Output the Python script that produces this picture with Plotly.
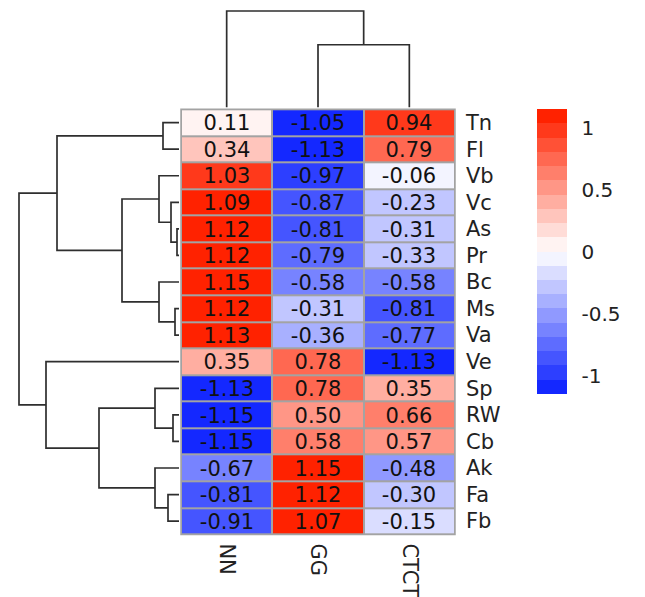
import plotly.graph_objects as go

# ---------------- data ----------------
row_labels = ["Tn", "Fl", "Vb", "Vc", "As", "Pr", "Bc", "Ms", "Va",
              "Ve", "Sp", "RW", "Cb", "Ak", "Fa", "Fb"]
col_labels = ["NN", "GG", "CTCT"]

nn_values = [0.11, 0.34, 1.03, 1.09, 1.12, 1.12, 1.15, 1.12, 1.13,
             0.35, -1.13, -1.15, -1.15, -0.67, -0.81, -0.91]
gg_values = [-1.05, -1.13, -0.97, -0.87, -0.81, -0.79, -0.58, -0.31, -0.36,
             0.78, 0.78, 0.50, 0.58, 1.15, 1.12, 1.07]
ctct_values = [0.94, 0.79, -0.06, -0.23, -0.31, -0.33, -0.58, -0.81, -0.77,
               -1.13, 0.35, 0.66, 0.57, -0.48, -0.30, -0.15]

# hclust-style merges (negative = leaf index in display order, positive = earlier merge)
row_merge_a = [-5, -8, -12, -4, -15, -1, -3, -7, -11, -14, 7, 9, 6, -10, 13]
row_merge_b = [-6, -9, -13, 1, -16, -2, 4, 2, 3, 5, 8, 10, 11, 12, 14]
row_merge_h = [2, 4, 6, 8, 11, 16, 20, 20, 24, 24, 57, 80, 122, 133, 160]

col_merge_a = [-2, -1]
col_merge_b = [-3, 1]
col_merge_h = [63, 97]

colorbar_ticks = [1, 0.5, 0, -0.5, -1]
colorbar_tick_text = ["1", "0.5", "0", "-0.5", "-1"]

# ---------------- styling ----------------
PAGE_OFFSET = 8                      # default body margin of the html page
W, H = 645 - PAGE_OFFSET, 597 - PAGE_OFFSET
FONT = "DejaVu Sans"
LOW, MID, HIGH = (20, 40, 255), (255, 255, 255), (255, 34, 0)
N_COLORS = 20
ZMIN, ZMAX = -1.15, 1.15
GRID = "#A3A3A3"
LINE = "#2e2e2e"


def px_x(p):
    return (p - PAGE_OFFSET) / W


def px_y(p):
    return 1 - (p - PAGE_OFFSET) / H


def ramp(n):
    cols = []
    for i in range(n):
        t = i / (n - 1)
        if t <= 0.5:
            a, b, f = LOW, MID, t / 0.5
        else:
            a, b, f = MID, HIGH, (t - 0.5) / 0.5
        c = tuple(round(a[k] + (b[k] - a[k]) * f) for k in range(3))
        cols.append("rgb(%d,%d,%d)" % c)
    return cols


palette = ramp(N_COLORS)
colorscale = []
for i, c in enumerate(palette):
    colorscale.append([i / N_COLORS, c])
    colorscale.append([(i + 1) / N_COLORS, c])


def dendro(ma, mb, mh):
    pos, hgt = [], []
    hs, ps = [], []

    def node(k):
        if k < 0:
            return (-k - 1, 0.0)
        return (pos[k - 1], hgt[k - 1])

    for a, b, h in zip(ma, mb, mh):
        pa, ha = node(a)
        pb, hb = node(b)
        hs += [ha, h, h, hb, None]
        ps += [pa, pa, pb, pb, None]
        pos.append((pa + pb) / 2)
        hgt.append(h)
    return hs, ps


z = [[nn_values[i], gg_values[i], ctct_values[i]] for i in range(len(row_labels))]
text = [["%.2f" % v for v in row] for row in z]
nrow, ncol = len(row_labels), len(col_labels)

fig = go.Figure()

fig.add_trace(go.Heatmap(
    z=z, x=list(range(ncol)), y=list(range(nrow)),
    text=text, texttemplate="%{text}",
    textfont=dict(family=FONT, size=21, color="#111111"),
    colorscale=colorscale, zmin=ZMIN, zmax=ZMAX,
    xgap=2, ygap=2, hoverinfo="skip",
    colorbar=dict(
        x=px_x(537), xanchor="left", xpad=0, ypad=0,
        y=px_y(253.5), yanchor="middle",
        len=287 / H, lenmode="fraction", thickness=30,
        outlinewidth=0,
        tickvals=colorbar_ticks, ticktext=colorbar_tick_text,
        ticks="outside", ticklen=11, tickcolor="rgba(0,0,0,0)",
        tickfont=dict(family=FONT, size=20, color="#222222"),
    ),
))

rh, rp = dendro(row_merge_a, row_merge_b, row_merge_h)
fig.add_trace(go.Scatter(x=rh, y=rp, xaxis="x2", yaxis="y", mode="lines",
                         line=dict(color=LINE, width=1.7), hoverinfo="skip",
                         showlegend=False))

ch, cp = dendro(col_merge_a, col_merge_b, col_merge_h)
fig.add_trace(go.Scatter(x=cp, y=ch, xaxis="x", yaxis="y3", mode="lines",
                         line=dict(color=LINE, width=1.7), hoverinfo="skip",
                         showlegend=False))

# grey background behind heatmap cells (cell borders)
fig.add_shape(type="rect", xref="x domain", yref="y domain",
              x0=0, x1=1, y0=0, y1=1, fillcolor=GRID,
              line=dict(color=GRID, width=1.5), layer="below")

fig.update_layout(
    width=W, height=H, autosize=False,
    margin=dict(l=0, r=0, t=0, b=0),
    paper_bgcolor="white", plot_bgcolor="white",
    showlegend=False,
    xaxis=dict(domain=[px_x(181), px_x(455)], range=[-0.5, ncol - 0.5],
               tickvals=list(range(ncol)), ticktext=col_labels,
               tickangle=90, ticks="", showgrid=False, zeroline=False,
               showline=False, ticklabelstandoff=8,
               tickfont=dict(family=FONT, size=21, color="#222222"),
               anchor="y"),
    yaxis=dict(domain=[px_y(538), px_y(110)], range=[nrow - 0.5, -0.5],
               tickvals=list(range(nrow)), ticktext=row_labels,
               side="right", ticks="", showgrid=False, zeroline=False,
               showline=False, ticklabelstandoff=10,
               tickfont=dict(family=FONT, size=21, color="#222222"),
               anchor="x"),
    xaxis2=dict(domain=[px_x(17), px_x(181)], range=[162, -2],
                visible=False, anchor="y"),
    yaxis3=dict(domain=[px_y(110), px_y(9)], range=[-2, 99],
                visible=False, anchor="x"),
)

fig.write_html("out.html")
